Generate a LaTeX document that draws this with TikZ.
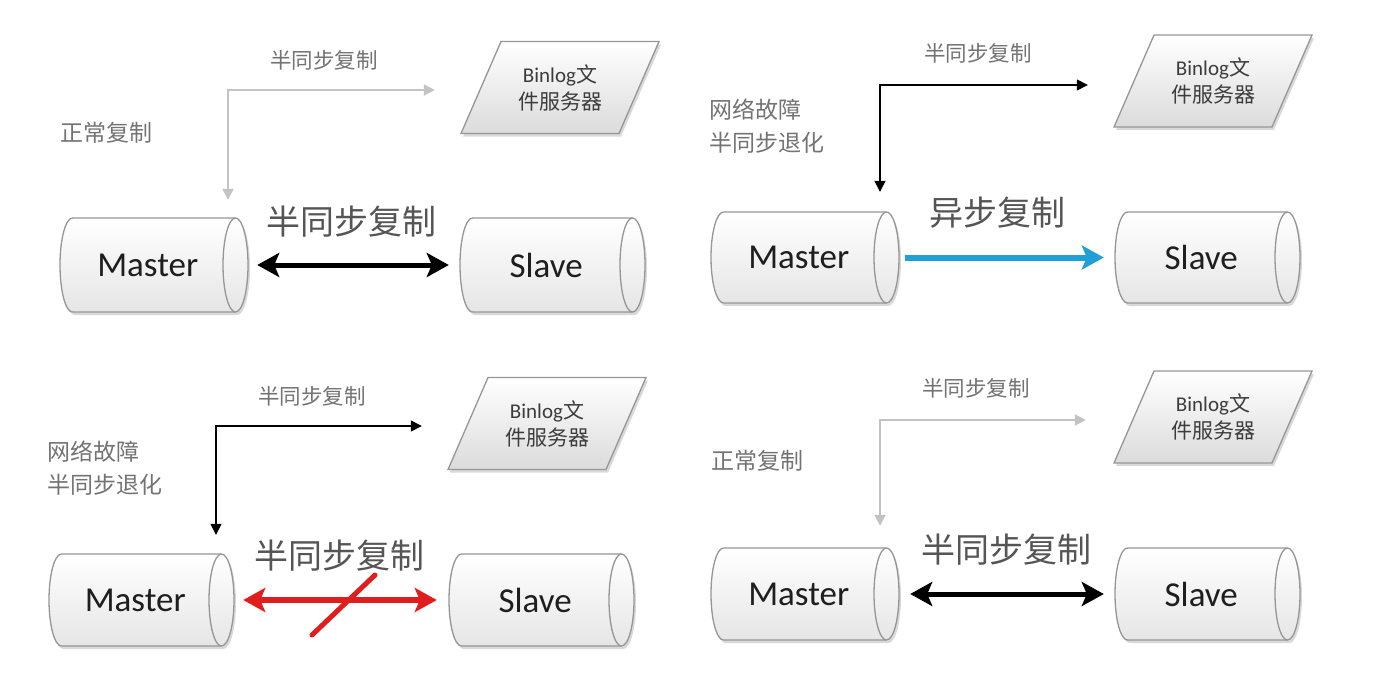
\documentclass[tikz,border=0pt]{standalone}
\usepackage{fontspec}
\setmainfont{Carlito}
\newfontfamily\cjk{Noto Sans CJK SC}
\usetikzlibrary{arrows.meta,calc}
\definecolor{lblgray}{RGB}{115,115,115}
\definecolor{biggray}{RGB}{85,85,85}
\definecolor{outl}{RGB}{150,150,150}
\definecolor{ltarrow}{RGB}{195,195,195}
\definecolor{myblue}{RGB}{32,160,215}
\definecolor{myred}{RGB}{225,30,30}
\definecolor{txtdark}{RGB}{30,30,30}
\definecolor{bintxt}{RGB}{60,60,60}

% cylinder: name, xl, xr, yt, yb, text
\newcommand\dbcyl[6]{%
  \pgfmathsetmacro\cxm{(#2+#3)/2}%
  \pgfmathsetmacro\cym{(#4+#5)/2}%
  \pgfmathsetmacro\cry{(#5-#4)/2}%
  \pgfmathsetmacro\cxl{#2+12.5}%
  \pgfmathsetmacro\cxr{#3-12.5}%
  \pgfmathsetmacro\cw{#3-#2}%
  \pgfmathsetmacro\ch{#5-#4}%
  \begin{scope}[shift={(2,3)}]
    \fill[black!15] (\cxl,#4) -- (\cxr,#4) arc[start angle=-90,end angle=90,x radius=12.5,y radius=\cry] -- (\cxl,#5) arc[start angle=90,end angle=270,x radius=12.5,y radius=\cry] -- cycle;
  \end{scope}
  \path[draw=outl, line width=1.3pt, top color=white, bottom color=black!10] (\cxl,#4) -- (\cxr,#4) arc[start angle=-90,end angle=90,x radius=12.5,y radius=\cry] -- (\cxl,#5) arc[start angle=90,end angle=270,x radius=12.5,y radius=\cry] -- cycle;
  \draw[outl, line width=1.3pt] (\cxr,#4) arc[start angle=270,end angle=90,x radius=12.5,y radius=\cry];
  \node[cylnode, minimum width=\cw pt, minimum height=\ch pt] (#1) at (\cxm,\cym) {#6\hspace*{12.5pt}};
}
% parallelogram: name, cx, cy
\newcommand\binlog[3]{%
  \begin{scope}[shift={(#2,#3)}]
    \fill[black!15] (-57,-43) -- (101,-43) -- (61,49) -- (-97,49) -- cycle;
    \path[draw=outl, line width=1.3pt, top color=white, bottom color=black!14] (-59,-46) -- (99,-46) -- (59,46) -- (-99,46) -- cycle;
  \end{scope}
  \node[bintext] (#1) at (#2,#3) {Binlog{\cjk 文}\\{\cjk 件服务器}};
}

\begin{document}
\begin{tikzpicture}[x=1pt,y=-1pt,
  cylnode/.style={inner sep=0pt, font=\fontsize{35pt}{38pt}\selectfont, text=txtdark},
  bintext/.style={inner sep=0pt, minimum width=198pt, minimum height=92pt, align=center, font=\fontsize{21pt}{27pt}\selectfont, text=bintxt},
  toplbl/.style={font=\cjk\fontsize{21.5pt}{26pt}\selectfont, text=lblgray, inner sep=0pt},
  sidelbl/.style={font=\cjk\fontsize{23pt}{33pt}\selectfont, text=lblgray, inner sep=0pt, anchor=west, align=left},
  biglbl/.style={font=\cjk\fontsize{34pt}{40pt}\selectfont, text=biggray, inner sep=0pt},
  elbowgray/.style={draw=ltarrow, line width=2pt, {Triangle[length=11pt,width=11pt]}-{Triangle[length=11pt,width=11pt]}},
  elbowblack/.style={draw=black, line width=1.4pt, {Triangle[length=11pt,width=11pt]}-{Triangle[length=11pt,width=11pt]}},
  dblblack/.style={draw=black, line width=5pt, {Stealth[length=22pt,width=24pt,inset=5pt]}-{Stealth[length=22pt,width=24pt,inset=5pt]}},
  dblred/.style={draw=myred, line width=5.5pt, {Stealth[length=22pt,width=24pt,inset=5pt]}-{Stealth[length=22pt,width=24pt,inset=5pt]}},
  oneblue/.style={draw=myblue, line width=6pt, -{Stealth[length=22pt,width=24pt,inset=5pt]}},
  slash/.style={draw=myred, line width=5pt, line cap=round}
]
\useasboundingbox[fill=white] (0,0) rectangle (1394,686);

% ---------- Q1 ----------
\dbcyl{m1}{60}{248}{218}{312}{Master}
\dbcyl{s1}{460}{645}{218}{312}{Slave}
\binlog{b1}{560}{87.5}
\coordinate (k1) at (228,90);
\draw[elbowgray, shorten <=18pt, shorten >=26pt] (k1 |- m1.north) -- (k1) -- (k1 -| b1.west);
\node[toplbl] (t1) at (324,60) {半同步复制};
\node[sidelbl] (n1) at (60,133) {正常复制};
\node[biglbl] (g1) at (351,222) {半同步复制};
\draw[dblblack, shorten <=9pt, shorten >=11pt] (m1.east) -- (s1.west);

% ---------- Q2 ----------
\dbcyl{m2}{711}{899}{212}{303}{Master}
\dbcyl{s2}{1115}{1300}{212}{303}{Slave}
\binlog{b2}{1213}{81}
\coordinate (k2) at (880,85);
\draw[elbowblack, shorten <=20pt, shorten >=26pt] (k2 |- m2.north) -- (k2) -- (k2 -| b2.west);
\node[toplbl] (t2) at (978,53) {半同步复制};
\node[sidelbl] (n2) at (709,126.5) {网络故障\\半同步退化};
\node[biglbl] (g2) at (997,213) {异步复制};
\draw[oneblue, shorten <=6pt, shorten >=11pt] (m2.east) -- (s2.west);

% ---------- Q3 ----------
\dbcyl{m3}{49}{234}{554}{646}{Master}
\dbcyl{s3}{449}{634}{554}{646}{Slave}
\binlog{b3}{547}{423.5}
\coordinate (k3) at (216,426);
\draw[elbowblack, shorten <=19pt, shorten >=26pt] (k3 |- m3.north) -- (k3) -- (k3 -| b3.west);
\node[toplbl] (t3) at (312,396) {半同步复制};
\node[sidelbl] (n3) at (47,468) {网络故障\\半同步退化};
\node[biglbl] (g3) at (339,556) {半同步复制};
\draw[dblred, shorten <=9pt, shorten >=12pt] (m3.east) -- (s3.west);
\draw[slash] (312,635) -- (375,575);

% ---------- Q4 ----------
\dbcyl{m4}{711}{899}{548}{640}{Master}
\dbcyl{s4}{1115}{1300}{548}{640}{Slave}
\binlog{b4}{1213}{417}
\coordinate (k4) at (880,420);
\draw[elbowgray, shorten <=22pt, shorten >=28pt] (k4 |- m4.north) -- (k4) -- (k4 -| b4.west);
\node[toplbl] (t4) at (976,388) {半同步复制};
\node[sidelbl] (n4) at (711,461) {正常复制};
\node[biglbl] (g4) at (1006,550) {半同步复制};
\draw[dblblack, shorten <=11pt, shorten >=11pt] (m4.east) -- (s4.west);
\end{tikzpicture}
\end{document}
